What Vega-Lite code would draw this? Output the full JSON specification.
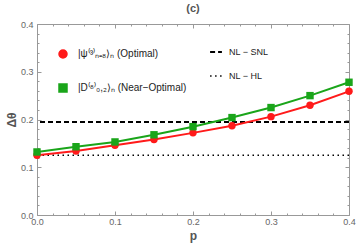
{
  "$schema": "https://vega.github.io/schema/vega-lite/v6.json",
  "width": 312,
  "height": 191,
  "autosize": {"type": "none"},
  "padding": {"left": 37, "top": 24, "right": 8, "bottom": 36},
  "title": {"text": "(c)", "font": "Liberation Sans", "fontSize": 11, "fontWeight": "bold", "color": "#555555", "offset": 6, "anchor": "middle"},
  "config": {
    "view": {"stroke": null},
    "axis": {"labelFont": "Liberation Sans", "labelFontSize": 9, "labelColor": "#666666", "titleFont": "Liberation Sans", "titleColor": "#555555", "titleFontWeight": "bold", "titleFontSize": 12, "domainColor": "#999999", "tickColor": "#999999", "grid": false},
    "legend": {"labelFont": "Liberation Sans", "labelFontSize": 9, "labelColor": "#222222", "padding": 0}
  },
  "resolve": {"axis": {"x": "independent", "y": "independent"}},
  "layer": [
    {
      "data": {"values": [
        {"ref": "NL − SNL", "v": 0.195},
        {"ref": "NL − HL", "v": 0.125}
      ]},
      "mark": {"type": "rule", "color": "black"},
      "encoding": {
        "y": {"field": "v", "type": "quantitative", "scale": {"domain": [0, 0.4], "nice": false}, "axis": null},
        "strokeDash": {"field": "ref", "type": "nominal", "scale": {"domain": ["NL − SNL", "NL − HL"], "range": [[5, 3], [1.5, 3.5]]},
          "legend": {"title": null, "orient": "none", "legendX": 172, "legendY": 21, "symbolType": "stroke", "symbolSize": 140, "symbolStrokeColor": "black", "symbolStrokeWidth": 2, "rowPadding": 12, "labelOffset": 6}},
        "strokeWidth": {"field": "ref", "type": "nominal", "scale": {"domain": ["NL − SNL", "NL − HL"], "range": [2, 1.6]}, "legend": null}
      }
    },
    {
      "data": {"name": "series"},
      "mark": {"type": "line", "strokeWidth": 2},
      "encoding": {
        "x": {"field": "p", "type": "quantitative", "scale": {"domain": [0, 0.4], "nice": false},
          "axis": {"orient": "bottom", "values": [0, 0.02, 0.04, 0.06, 0.08, 0.1, 0.12, 0.14, 0.16, 0.18, 0.2, 0.22, 0.24, 0.26, 0.28, 0.3, 0.32, 0.34, 0.36, 0.38, 0.4],
            "labelExpr": "abs(datum.value*10 - round(datum.value*10)) < 0.001 ? format(datum.value, '.1f') : ''",
            "tickSize": {"condition": {"test": "abs(datum.value*10 - round(datum.value*10)) < 0.001", "value": -4}, "value": -2},
            "labelPadding": 6, "title": "p", "titlePadding": 4, "labelFlush": false}},
        "y": {"field": "v", "type": "quantitative", "scale": {"domain": [0, 0.4], "nice": false},
          "axis": {"orient": "left", "values": [0, 0.02, 0.04, 0.06, 0.08, 0.1, 0.12, 0.14, 0.16, 0.18, 0.2, 0.22, 0.24, 0.26, 0.28, 0.3, 0.32, 0.34, 0.36, 0.38, 0.4],
            "labelExpr": "abs(datum.value*10 - round(datum.value*10)) < 0.001 ? format(datum.value, '.1f') : ''",
            "tickSize": {"condition": {"test": "abs(datum.value*10 - round(datum.value*10)) < 0.001", "value": -4}, "value": -2},
            "labelPadding": 8, "title": "Δθ", "titlePadding": 2}},
        "color": {"field": "series", "type": "nominal", "title": null, "scale": {"domain": ["|ψ⁽³⁾ₙ₌₈⟩ₙ  (Optimal)", "|D⁽⁸⁾₀,₂⟩ₙ  (Near−Optimal)"], "range": ["#FF1A1A", "#1AA51A"]},
          "legend": {"orient": "none", "legendX": 21, "legendY": 25, "symbolSize": 64, "rowPadding": 20, "labelOffset": 10, "labelFontSize": 10}}
      }
    },
    {
      "data": {"name": "series"},
      "mark": {"type": "point", "filled": true, "opacity": 1, "size": 55},
      "encoding": {
        "x": {"field": "p", "type": "quantitative",
          "axis": {"orient": "top", "values": [0, 0.02, 0.04, 0.06, 0.08, 0.1, 0.12, 0.14, 0.16, 0.18, 0.2, 0.22, 0.24, 0.26, 0.28, 0.3, 0.32, 0.34, 0.36, 0.38, 0.4], "labels": false, "title": null,
            "tickSize": {"condition": {"test": "abs(datum.value*10 - round(datum.value*10)) < 0.001", "value": -4}, "value": -2}}},
        "y": {"field": "v", "type": "quantitative",
          "axis": {"orient": "right", "values": [0, 0.02, 0.04, 0.06, 0.08, 0.1, 0.12, 0.14, 0.16, 0.18, 0.2, 0.22, 0.24, 0.26, 0.28, 0.3, 0.32, 0.34, 0.36, 0.38, 0.4], "labels": false, "title": null,
            "tickSize": {"condition": {"test": "abs(datum.value*10 - round(datum.value*10)) < 0.001", "value": -4}, "value": -2}}},
        "color": {"field": "series", "type": "nominal", "title": null,
          "legend": {"orient": "none", "legendX": 21, "legendY": 25, "symbolSize": 64, "rowPadding": 20, "labelOffset": 10, "labelFontSize": 10}},
        "shape": {"field": "series", "type": "nominal", "title": null, "scale": {"domain": ["|ψ⁽³⁾ₙ₌₈⟩ₙ  (Optimal)", "|D⁽⁸⁾₀,₂⟩ₙ  (Near−Optimal)"], "range": ["circle", "square"]},
          "legend": {"orient": "none", "legendX": 21, "legendY": 25, "symbolSize": 64, "rowPadding": 20, "labelOffset": 10, "labelFontSize": 10}}
      }
    }
  ],
  "datasets": {
    "series": [
      {"p": 0.0, "series": "|ψ⁽³⁾ₙ₌₈⟩ₙ  (Optimal)", "v": 0.125},
      {"p": 0.05, "series": "|ψ⁽³⁾ₙ₌₈⟩ₙ  (Optimal)", "v": 0.134},
      {"p": 0.1, "series": "|ψ⁽³⁾ₙ₌₈⟩ₙ  (Optimal)", "v": 0.146},
      {"p": 0.15, "series": "|ψ⁽³⁾ₙ₌₈⟩ₙ  (Optimal)", "v": 0.158},
      {"p": 0.2, "series": "|ψ⁽³⁾ₙ₌₈⟩ₙ  (Optimal)", "v": 0.172},
      {"p": 0.25, "series": "|ψ⁽³⁾ₙ₌₈⟩ₙ  (Optimal)", "v": 0.187},
      {"p": 0.3, "series": "|ψ⁽³⁾ₙ₌₈⟩ₙ  (Optimal)", "v": 0.206},
      {"p": 0.35, "series": "|ψ⁽³⁾ₙ₌₈⟩ₙ  (Optimal)", "v": 0.23},
      {"p": 0.4, "series": "|ψ⁽³⁾ₙ₌₈⟩ₙ  (Optimal)", "v": 0.259},
      {"p": 0.0, "series": "|D⁽⁸⁾₀,₂⟩ₙ  (Near−Optimal)", "v": 0.132},
      {"p": 0.05, "series": "|D⁽⁸⁾₀,₂⟩ₙ  (Near−Optimal)", "v": 0.143},
      {"p": 0.1, "series": "|D⁽⁸⁾₀,₂⟩ₙ  (Near−Optimal)", "v": 0.153},
      {"p": 0.15, "series": "|D⁽⁸⁾₀,₂⟩ₙ  (Near−Optimal)", "v": 0.168},
      {"p": 0.2, "series": "|D⁽⁸⁾₀,₂⟩ₙ  (Near−Optimal)", "v": 0.185},
      {"p": 0.25, "series": "|D⁽⁸⁾₀,₂⟩ₙ  (Near−Optimal)", "v": 0.204},
      {"p": 0.3, "series": "|D⁽⁸⁾₀,₂⟩ₙ  (Near−Optimal)", "v": 0.225},
      {"p": 0.35, "series": "|D⁽⁸⁾₀,₂⟩ₙ  (Near−Optimal)", "v": 0.25},
      {"p": 0.4, "series": "|D⁽⁸⁾₀,₂⟩ₙ  (Near−Optimal)", "v": 0.278}
    ]
  }
}
